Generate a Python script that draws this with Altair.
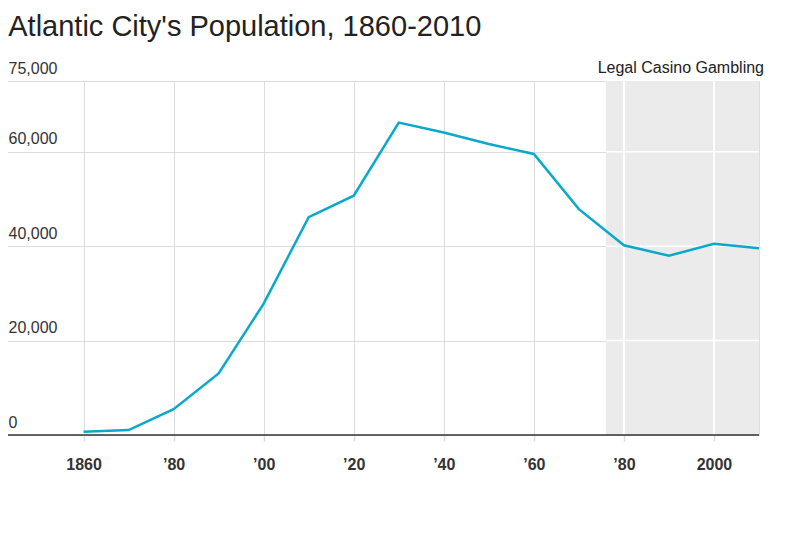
import altair as alt
import pandas as pd

years = [1860, 1870, 1880, 1890, 1900, 1910, 1920, 1930, 1940, 1950, 1960, 1970, 1980, 1990, 2000, 2010]
population = [687, 1043, 5477, 13055, 27838, 46150, 50707, 66198, 64094, 61657, 59544, 47859, 40199, 37986, 40517, 39558]

x_ticks = [1860, 1880, 1900, 1920, 1940, 1960, 1980, 2000]
y_ticks = [0, 20000, 40000, 60000, 75000]
x_domain = [1843, 2010]
y_domain = [0, 75000]

casino_start = 1976
casino_end = 2010
casino_label = "Legal Casino Gambling"
title_text = "Atlantic City's Population, 1860-2010"

FONT = "Liberation Sans"
LINE_COLOR = "#0aa9cb"

df = pd.DataFrame({"year": years, "population": population})
shade_df = pd.DataFrame({"x": [casino_start], "x2": [casino_end], "y": [y_domain[0]], "y2": [y_domain[1]]})
hgrid_df = pd.DataFrame({"y": [v for v in y_ticks if 0 < v < y_domain[1]]})
hgrid_df["x"] = casino_start
hgrid_df["x2"] = casino_end
vgrid_df = pd.DataFrame({"x": [v for v in x_ticks if casino_start < v < casino_end]})
vgrid_df["y"] = y_domain[0]
vgrid_df["y2"] = y_domain[1]
base_df = pd.DataFrame({"x": [x_domain[0]], "x2": [x_domain[1]], "y": [0]})
label_df = pd.DataFrame({"x": [casino_end], "y": [y_domain[1]], "text": [casino_label]})

xscale = alt.Scale(domain=x_domain, nice=False, zero=False)
yscale = alt.Scale(domain=y_domain, nice=False)

x_axis = alt.Axis(
    values=x_ticks,
    title=None,
    domain=False,
    grid=True,
    ticks=True,
    tickSize=6,
    tickColor="#dddddd",
    tickWidth=1.5,
    labelExpr="datum.value == 1860 || datum.value == 2000 ? '' + datum.value : '\u2019' + substring('' + datum.value, 2)",
    labelFont=FONT,
    labelFontSize=16,
    labelFontWeight="bold",
    labelColor="#333333",
    labelPadding=15,
)
y_axis = alt.Axis(
    values=y_ticks,
    title=None,
    domain=False,
    ticks=False,
    tickSize=0,
    grid=True,
    format=",d",
    labelAlign="left",
    labelBaseline="bottom",
    labelPadding=-1,
    labelOffset=-5,
    labelFont=FONT,
    labelFontSize=16,
    labelColor="#333333",
)


def X(field):
    return alt.X(field, scale=xscale, axis=x_axis)


def Y(field):
    return alt.Y(field, scale=yscale, axis=y_axis)


shade = alt.Chart(shade_df).mark_rect(color="#ebebeb").encode(
    x=X("x:Q"), x2="x2:Q", y=Y("y:Q"), y2="y2:Q",
)
hgrid = alt.Chart(hgrid_df).mark_rule(color="white", strokeWidth=1.5).encode(
    x=X("x:Q"), x2="x2:Q", y=Y("y:Q")
)
vgrid = alt.Chart(vgrid_df).mark_rule(color="white", strokeWidth=2).encode(
    x=X("x:Q"), y=Y("y:Q"), y2="y2:Q"
)
baseline = alt.Chart(base_df).mark_rule(color="#333333", strokeWidth=1.5).encode(
    x=X("x:Q"), x2="x2:Q", y=Y("y:Q")
)
line = alt.Chart(df).mark_line(color=LINE_COLOR, strokeWidth=2.5).encode(
    x=X("year:Q"), y=Y("population:Q"),
)
label = alt.Chart(label_df).mark_text(
    align="right", baseline="bottom", dx=5, dy=-5, font=FONT, fontSize=16, color="#222222"
).encode(
    x=X("x:Q"), y=Y("y:Q"), text="text:N",
)

chart = alt.layer(shade, hgrid, vgrid, baseline, line, label).properties(
    width=752,
    height=354,
    padding={"left": -2, "top": 5, "right": 5, "bottom": 5},
    title=alt.TitleParams(
        text=title_text,
        anchor="start",
        font=FONT,
        fontSize=29,
        fontWeight="normal",
        color="#222222",
        offset=18,
        dx=2,
    ),
).configure_view(stroke=None).configure_axis(
    gridColor="#dddddd", gridWidth=1.5
).configure(background="white")

chart.save("out.html", embed_options={"renderer": "svg", "actions": False})
